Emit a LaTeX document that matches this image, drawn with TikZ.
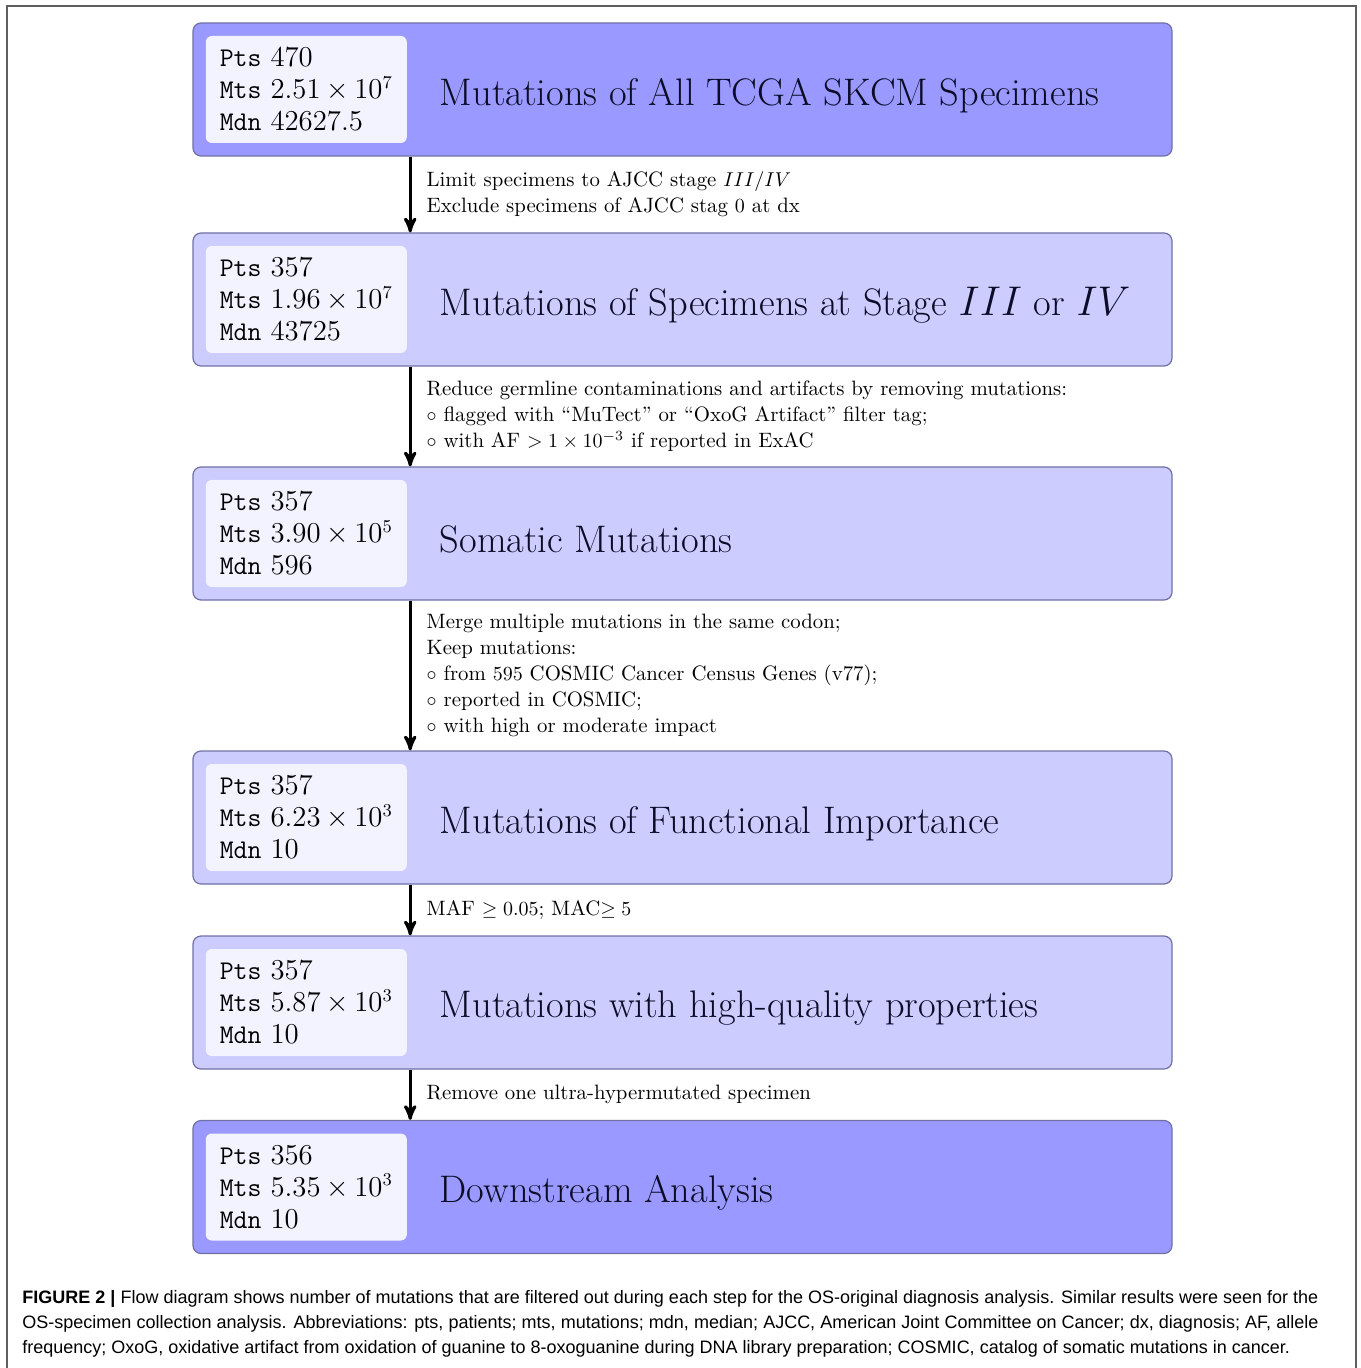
\documentclass[tikz,border=0pt]{standalone}
\usepackage{amsmath}
\usepackage{amssymb}
\usepackage{fontspec}
\setsansfont{Liberation Sans}
\usepackage{tikz}
\usetikzlibrary{arrows, shapes, positioning}

\definecolor{darkbox}{RGB}{153,153,255}
\definecolor{lightbox}{RGB}{204,204,255}
\definecolor{boxline}{RGB}{112,112,165}
\definecolor{statfill}{RGB}{243,243,255}
\definecolor{titletext}{RGB}{12,12,40}
\definecolor{framegray}{RGB}{95,95,95}

\newcommand{\stagestats}[3]{\texttt{Pts} $#1$\\ \texttt{Mts} $#2$\\ \texttt{Mdn} $#3$}

\begin{document}
\begin{tikzpicture}[x=0.5pt, y=-0.5pt]
		\tikzstyle{stagebox} = [draw=boxline, line width=0.6pt, rounded corners=4pt,
			minimum width=489.5pt, minimum height=66.5pt, inner sep=0pt]
		\tikzstyle{statbox} = [fill=statfill, rounded corners=3pt, anchor=west,
			text width=86.5pt, minimum height=53.5pt, inner xsep=7pt, align=left,
			font=\fontsize{13.5}{16}\selectfont]
		\tikzstyle{stagetitle} = [anchor=west, text=titletext, inner sep=0pt,
			font=\fontsize{19.2}{22}\selectfont]
		\tikzstyle{filter} = [draw, ->, >=stealth', line width=1.5pt]
		\tikzstyle{filternote} = [right, align=left, inner xsep=7.5pt, inner ysep=0pt,
			font=\fontsize{10.4}{13}\selectfont]
				\useasboundingbox (0,0) rectangle (1360,1368);
				\path[draw, framegray, line width=0.8pt] (7,1368)--
					(7,6)--
					(1356,6)--
					(1356,1368);
				% the six stages
				\node[stagebox, fill=darkbox] (allspec) at (682.5,89.5) {};
				\node[stagebox, fill=lightbox] (stage) at (682.5,299.5) {};
				\node[stagebox, fill=lightbox] (somatic) at (682.5,533.5) {};
				\node[stagebox, fill=lightbox] (functional) at (682.5,817.5) {};
				\node[stagebox, fill=lightbox] (quality) at (682.5,1002.5) {};
				\node[stagebox, fill=darkbox] (downstream) at (682.5,1187) {};
				% counts on the left of each stage
				\node[statbox] (allstat) at ([xshift=6.5pt]allspec.west)
					{\stagestats{470}{2.51\times10^{7}}{42627.5}};
				\node[statbox] (stagestat) at ([xshift=6.5pt]stage.west)
					{\stagestats{357}{1.96\times10^{7}}{43725}};
				\node[statbox] (somaticstat) at ([xshift=6.5pt]somatic.west)
					{\stagestats{357}{3.90\times10^{5}}{596}};
				\node[statbox] (functionalstat) at ([xshift=6.5pt]functional.west)
					{\stagestats{357}{6.23\times10^{3}}{10}};
				\node[statbox] (qualitystat) at ([xshift=6.5pt]quality.west)
					{\stagestats{357}{5.87\times10^{3}}{10}};
				\node[statbox] (downstat) at ([xshift=6.5pt]downstream.west)
					{\stagestats{356}{5.35\times10^{3}}{10}};
				% titles
				\node[stagetitle] at ([xshift=123.5pt,yshift=-3pt]allspec.west)
					{Mutations of All TCGA SKCM Specimens};
				\node[stagetitle] at ([xshift=123.5pt,yshift=-3pt]stage.west)
					{Mutations of Specimens at Stage $III$ or $IV$};
				\node[stagetitle] at ([xshift=123.5pt,yshift=-3pt]somatic.west)
					{Somatic Mutations};
				\node[stagetitle] at ([xshift=123.5pt,yshift=-3pt]functional.west)
					{Mutations of Functional Importance};
				\node[stagetitle] at ([xshift=123.5pt,yshift=-3pt]quality.west)
					{Mutations with high-quality properties};
				\node[stagetitle] at ([xshift=123.5pt,yshift=-3pt]downstream.west)
					{Downstream Analysis};
				% filtering steps
				\path[filter] ([xshift=1.5pt]allspec.south -| allstat.east)--
					([xshift=1.5pt]stage.north -| allstat.east) node[filternote, midway]
					{Limit specimens to AJCC stage $III/IV$\\
					Exclude specimens of AJCC stag $0$ at dx};
				\path[filter] ([xshift=1.5pt]stage.south -| stagestat.east)--
					([xshift=1.5pt]somatic.north -| stagestat.east) node[filternote, midway]
					{Reduce germline contaminations and artifacts by removing mutations:\\
					$\circ$ flagged with ``MuTect'' or ``OxoG Artifact'' filter tag;\\
					$\circ$ with AF $>1\times10^{-3}$ if reported in ExAC};
				\path[filter] ([xshift=1.5pt]somatic.south -| somaticstat.east)--
					([xshift=1.5pt]functional.north -| somaticstat.east) node[filternote, midway]
					{Merge multiple mutations in the same codon;\\
					Keep mutations:\\
					$\circ$ from $595$ COSMIC Cancer Census Genes (v77);\\
					$\circ$ reported in COSMIC;\\
					$\circ$ with high or moderate impact};
				\path[filter] ([xshift=1.5pt]functional.south -| functionalstat.east)--
					([xshift=1.5pt]quality.north -| functionalstat.east) node[filternote, midway]
					{MAF $\geq 0.05$; MAC$\geq 5$};
				\path[filter] ([xshift=1.5pt]quality.south -| qualitystat.east)--
					([xshift=1.5pt]downstream.north -| qualitystat.east) node[filternote, midway]
					{Remove one ultra-hypermutated specimen};
				% caption
				\node[anchor=north west, inner sep=0pt, align=left,
					font=\sffamily\fontsize{9}{12.5}\selectfont] (caption) at (22,1290)
					{\makebox[648pt][s]{\textbf{FIGURE 2 |} Flow diagram shows number of mutations that are filtered out during each step for the OS-original diagnosis analysis. Similar results were seen for the}\\
					\makebox[648pt][s]{OS-specimen collection analysis. Abbreviations: pts, patients; mts, mutations; mdn, median; AJCC, American Joint Committee on Cancer; dx, diagnosis; AF, allele}\\
					frequency; OxoG, oxidative artifact from oxidation of guanine to 8-oxoguanine during DNA library preparation; COSMIC, catalog of somatic mutations in cancer.};
\end{tikzpicture}
\end{document}
